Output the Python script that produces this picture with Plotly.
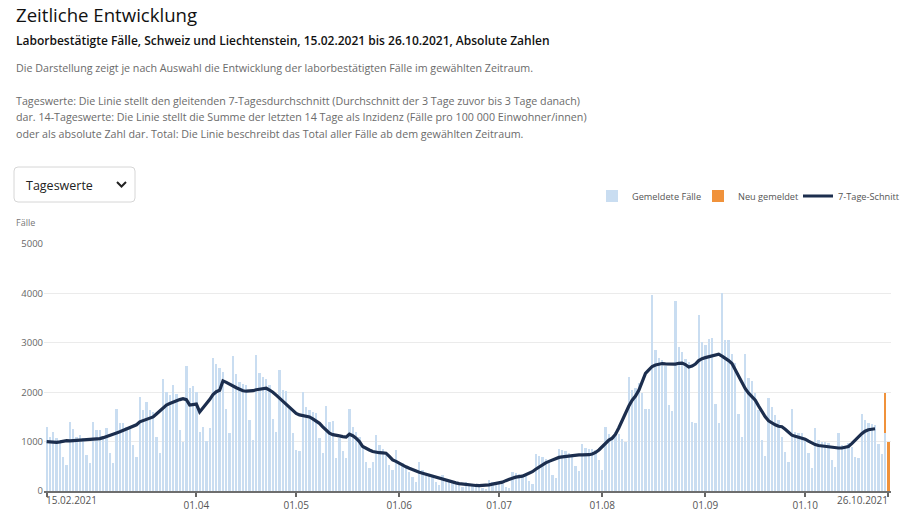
import pandas as pd
import plotly.graph_objects as go

# ---------------- data ----------------
start_date = "2021-02-15"
n_days = 254
dates = pd.date_range(start_date, periods=n_days, freq="D")

gemeldete_faelle = [
    1300, 1100, 1200, 1070, 1030, 690, 520,
    1400, 1250, 1100, 1130, 1070, 730, 560,
    1400, 1230, 1230, 1100, 1270, 760, 570,
    1670, 1380, 1370, 1300, 1300, 930, 690,
    1910, 1640, 1810, 1640, 1600, 1100, 770,
    2260, 2000, 1940, 2140, 1970, 1230, 1000,
    2530, 2080, 2120, 2000, 1200, 1300, 1020,
    1270, 2700, 2570, 2480, 2410, 1670, 1180,
    2730, 2370, 2210, 2160, 2140, 1440, 1040,
    2750, 2390, 2310, 2260, 2140, 1450, 1200,
    2450, 2050, 2030, 1700, 1170, 830, 800,
    2010, 1700, 1640, 1600, 1570, 1070, 770,
    1720, 1400, 1420, 660, 1065, 800, 660,
    1660, 1300, 1200, 1100, 930, 590, 460,
    590, 1130, 930, 860, 730, 530, 425,
    840, 590, 560, 490, 390, 290, 190,
    590, 425, 320, 320, 290, 190, 120,
    320, 250, 220, 200, 190, 120, 90,
    190, 150, 140, 130, 120, 70, 50,
    220, 180, 170, 160, 150, 90, 70,
    380, 360, 340, 330, 310, 200, 150,
    750, 700, 680, 640, 600, 330, 270,
    850, 820, 800, 770, 720, 500, 400,
    950, 880, 850, 860, 820, 620, 420,
    1300, 1150, 1100, 1200, 1150, 1050, 1000,
    2310, 2040, 2080, 2180, 1980, 1670, 1660,
    3970, 2850, 2700, 2650, 2530, 1750, 1620,
    3850, 2920, 2820, 2680, 2620, 1400, 1370,
    3560, 3020, 2950, 3070, 3090, 1760, 1370,
    4000, 3050, 3050, 2780, 2600, 1550, 1100,
    2773, 2280, 2233, 1976, 1640, 1030, 700,
    1875, 1707, 1538, 1436, 1100, 795, 593,
    1659, 1200, 1167, 1180, 1065, 775, 458,
    1268, 1032, 998, 998, 964, 627, 492,
    1167, 930, 896, 964, 896, 694, 660,
    1558, 1436, 1369, 1356, 1335, 950, 748,
    1167, 0,
]

neu_gemeldet = [0] * 252 + [810, 1000]

sieben_tage_schnitt = [
    1000, 990, 985, 985, 995, 1010, 1020, 1015, 1020, 1025,
    1030, 1030, 1030, 1035, 1040, 1050, 1060, 1080, 1100, 1120,
    1150, 1175, 1200, 1225, 1250, 1275, 1300, 1340, 1400, 1425,
    1450, 1470, 1500, 1560, 1620, 1700, 1740, 1770, 1800, 1830,
    1850, 1870, 1850, 1740, 1750, 1760, 1600, 1680, 1750, 1850,
    1950, 2010, 2040, 2230, 2200, 2160, 2120, 2090, 2060, 2030,
    2020, 2020, 2030, 2050, 2060, 2070, 2080, 2040, 2000, 1940,
    1880, 1800, 1740, 1680, 1620, 1570, 1540, 1530, 1520, 1500,
    1460, 1420, 1370, 1300, 1230, 1170, 1140, 1120, 1115, 1100,
    1090, 1150, 1120, 1070, 1000, 900, 860, 830, 800, 780,
    775, 770, 765, 700, 630, 600, 560, 520, 490, 460,
    430, 405, 380, 360, 340, 320, 300, 275, 250, 230,
    210, 195, 180, 165, 150, 140, 130, 120, 115, 112,
    110, 110, 115, 125, 140, 150, 160, 180, 210, 240,
    260, 280, 290, 300, 330, 360, 390, 440, 490, 530,
    570, 600, 630, 660, 680, 690, 700, 710, 720, 730,
    730, 730, 730, 735, 750, 780, 830, 900, 980, 1030,
    1070, 1150, 1280, 1430, 1580, 1720, 1840, 1920, 2040, 2200,
    2380, 2450, 2520, 2550, 2570, 2580, 2575, 2570, 2560, 2570,
    2585, 2590, 2560, 2510, 2530, 2570, 2640, 2680, 2700, 2720,
    2730, 2760, 2770, 2730, 2690, 2640, 2580, 2450, 2310, 2200,
    2070, 1980, 1910, 1840, 1720, 1600, 1500, 1420, 1370, 1340,
    1310, 1300, 1250, 1190, 1130, 1110, 1090, 1070, 1050, 1010,
    970, 940, 920, 910, 900, 890, 880, 870, 870, 870,
    880, 900, 960, 1030, 1100, 1160, 1210, 1240, 1250, 1260,
]

tick_dates = ["2021-02-15", "2021-04-01", "2021-05-01", "2021-06-01", "2021-07-01",
              "2021-08-01", "2021-09-01", "2021-10-01", "2021-10-26"]
tick_labels = ["15.02.2021", "01.04", "01.05", "01.06", "01.07",
               "01.08", "01.09", "01.10", "26.10.2021"]

y_ticks = [0, 1000, 2000, 3000, 4000, 5000]

title = "Zeitliche Entwicklung"
subtitle = "Laborbestätigte Fälle, Schweiz und Liechtenstein, 15.02.2021 bis 26.10.2021, Absolute Zahlen"
desc_lines = [
    "Die Darstellung zeigt je nach Auswahl die Entwicklung der laborbestätigten Fälle im gewählten Zeitraum.",
    "Tageswerte: Die Linie stellt den gleitenden 7-Tagesdurchschnitt (Durchschnitt der 3 Tage zuvor bis 3 Tage danach)",
    "dar. 14-Tageswerte: Die Linie stellt die Summe der letzten 14 Tage als Inzidenz (Fälle pro 100 000 Einwohner/innen)",
    "oder als absolute Zahl dar. Total: Die Linie beschreibt das Total aller Fälle ab dem gewählten Zeitraum.",
]

# ---------------- layout helpers ----------------
W, H = 900, 519
PL, PR, PT, PB = 44, 891, 244, 491


def fx(x):
    return (x - PL) / (PR - PL)


def fy(y):
    return (PB - y) / (PB - PT)


FONT = "Open Sans"
BLUE = "#c9ddf1"
ORANGE = "#f0923b"
NAVY = "#1c2e4e"

fig = go.Figure()
fig.add_trace(go.Bar(x=dates, y=gemeldete_faelle, name="Gemeldete Fälle", legend="legend",
                     marker=dict(color=BLUE, line=dict(width=0))))
fig.add_trace(go.Bar(x=dates, y=neu_gemeldet, name="Neu gemeldet", legend="legend2",
                     marker=dict(color=ORANGE, line=dict(width=0))))
fig.add_trace(go.Scatter(x=dates[:len(sieben_tage_schnitt)], y=sieben_tage_schnitt,
                         name="7-Tage-Schnitt", mode="lines", legend="legend3",
                         line=dict(color=NAVY, width=3.2)))

desc_font = dict(size=10.7, color="#6b6b6b", family=FONT)
annotations = [
    dict(text=title, x=fx(14), y=fy(14), font=dict(size=18.6, color="#111111", family=FONT, weight=500)),
    dict(text=subtitle, x=fx(14), y=fy(41), font=dict(size=12, color="#111111", family=FONT, weight=600)),
    dict(text=desc_lines[0], x=fx(14), y=fy(68), font=desc_font),
    dict(text=desc_lines[1], x=fx(14), y=fy(101), font=desc_font),
    dict(text=desc_lines[2], x=fx(14), y=fy(117), font=desc_font),
    dict(text=desc_lines[3], x=fx(14), y=fy(134), font=desc_font),
    dict(text="Tageswerte", x=fx(24), y=fy(185), font=dict(size=12.5, color="#222222", family=FONT)),
    dict(text="Fälle", x=fx(14), y=fy(222), font=dict(size=9, color="#777777", family=FONT)),
]
for a in annotations:
    a.update(xref="paper", yref="paper", xanchor="left", yanchor="middle", showarrow=False)

# first / last tick labels aligned like the original
annotations.append(dict(text=tick_labels[0], x=tick_dates[0], xref="x", y=fy(500), yref="paper",
                        xanchor="left", yanchor="middle", xshift=-3, showarrow=False,
                        font=dict(size=10, color="#555555", family=FONT)))
annotations.append(dict(text=tick_labels[-1], x=tick_dates[-1], xref="x", y=fy(500), yref="paper",
                        xanchor="right", yanchor="middle", xshift=2, showarrow=False,
                        font=dict(size=10, color="#555555", family=FONT)))

# dropdown box with rounded corners and chevron
x0, x1, y0, y1, r = fx(14), fx(135), fy(167), fy(202), 4
rx, ry = r / (PR - PL), r / (PB - PT)
box_path = (f"M {x0+rx},{y0} L {x1-rx},{y0} Q {x1},{y0} {x1},{y0-ry} "
            f"L {x1},{y1+ry} Q {x1},{y1} {x1-rx},{y1} L {x0+rx},{y1} "
            f"Q {x0},{y1} {x0},{y1+ry} L {x0},{y0-ry} Q {x0},{y0} {x0+rx},{y0} Z")
chev_path = f"M {fx(117)},{fy(182)} L {fx(121.5)},{fy(186.5)} L {fx(126)},{fy(182)}"
shapes = [
    dict(type="path", path=box_path, xref="paper", yref="paper",
         line=dict(color="#d6d6d6", width=1), fillcolor="white"),
    dict(type="path", path=chev_path, xref="paper", yref="paper",
         line=dict(color="#222222", width=2)),
]


def legend_at(text_start_px):
    return dict(orientation="h", x=fx(text_start_px - 42), xanchor="left",
                y=fy(196), yanchor="middle",
                font=dict(size=9.2, color="#555555", family=FONT),
                itemwidth=30, bgcolor="rgba(0,0,0,0)")


fig.update_layout(
    width=W, height=H,
    margin=dict(l=PL, r=W - PR, t=PT, b=H - PB, autoexpand=False),
    paper_bgcolor="white", plot_bgcolor="white",
    font=dict(family=FONT, color="#555555"),
    barmode="stack", bargap=0.3,
    showlegend=True,
    legend=legend_at(634),
    legend2=legend_at(740),
    legend3=legend_at(840),
    annotations=annotations,
    shapes=shapes,
    xaxis=dict(type="date", range=["2021-02-14 04:48", "2021-10-26 19:12"],
               tickmode="array", tickvals=tick_dates,
               ticktext=[""] + tick_labels[1:-1] + [""],
               ticks="outside", ticklen=4, tickwidth=1.5, tickcolor="#666666",
               tickfont=dict(size=10, color="#555555", family=FONT),
               showgrid=False, showline=True, linecolor="#6e6e6e", linewidth=2,
               zeroline=False, fixedrange=True),
    yaxis=dict(range=[0, 5000], tickmode="array", tickvals=y_ticks,
               tickfont=dict(size=9.5, color="#666666", family=FONT),
               showgrid=True, gridcolor="#ebebeb", gridwidth=1,
               zeroline=False, showline=False, ticks="", fixedrange=True),
    hovermode=False,
)

fig.write_html("out.html", config={"displayModeBar": False},
               post_script="document.body.style.margin='0';document.body.style.overflow='hidden';")
